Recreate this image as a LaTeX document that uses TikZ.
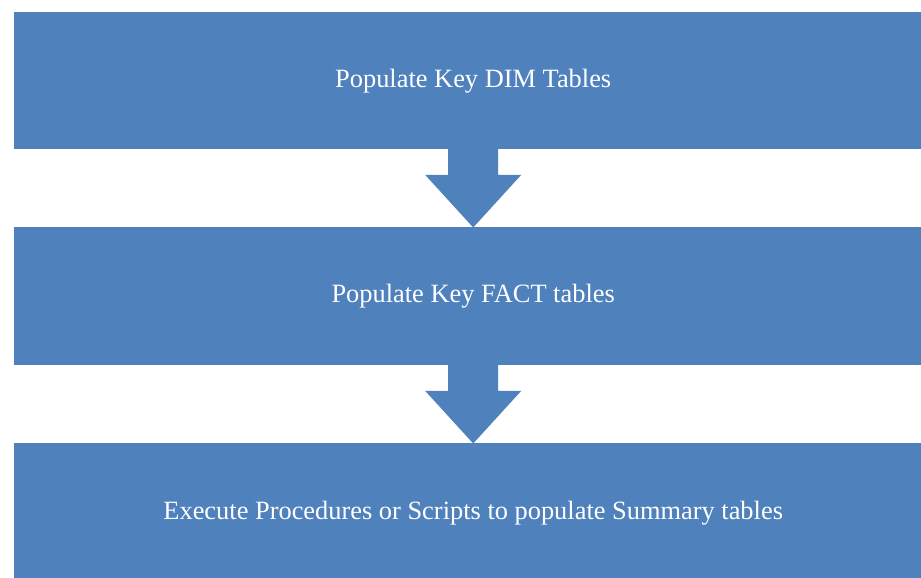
\documentclass[tikz,border=0pt]{standalone}
\usepackage{fontspec}
\setmainfont{Liberation Serif}
\usetikzlibrary{calc}
\definecolor{boxblue}{HTML}{4F81BD}
\begin{document}
\begin{tikzpicture}[x=1pt,y=1pt,
  stepbox/.style={fill=boxblue,draw=none,minimum width=918pt,minimum height=137pt,
    inner sep=0pt,text=white,font=\fontsize{26.4}{30}\selectfont,anchor=north west},
  blockarrow/.style={fill=boxblue,draw=none}]
\useasboundingbox (0,0) rectangle (921,-578);
\clip (0,0) rectangle (921,-578);
\fill[white] (0,0) rectangle (921,-578);
\node[stepbox] (b1) at (14,-12) {\raisebox{-2pt}{Populate Key DIM Tables}};
\node[stepbox,minimum height=138pt] (b2) at (14,-227) {\raisebox{-2pt}{Populate Key FACT tables}};
\node[stepbox,minimum height=140pt] (b3) at (14,-443) {\raisebox{-2pt}{Execute Procedures or Scripts to populate Summary tables}};
\foreach \a/\b in {b1/b2,b2/b3}{
  \fill[blockarrow] ($(\a.south)+(-25,0.5)$) -- ++(0,-26) -- ++(-23,0)
    -- ($(\b.north)+(0,-0.5)$) -- ($(\a.south)+(48,-25.5)$) -- ++(-23,0)
    -- ($(\a.south)+(25,0.5)$) -- cycle;
}
\end{tikzpicture}
\end{document}
